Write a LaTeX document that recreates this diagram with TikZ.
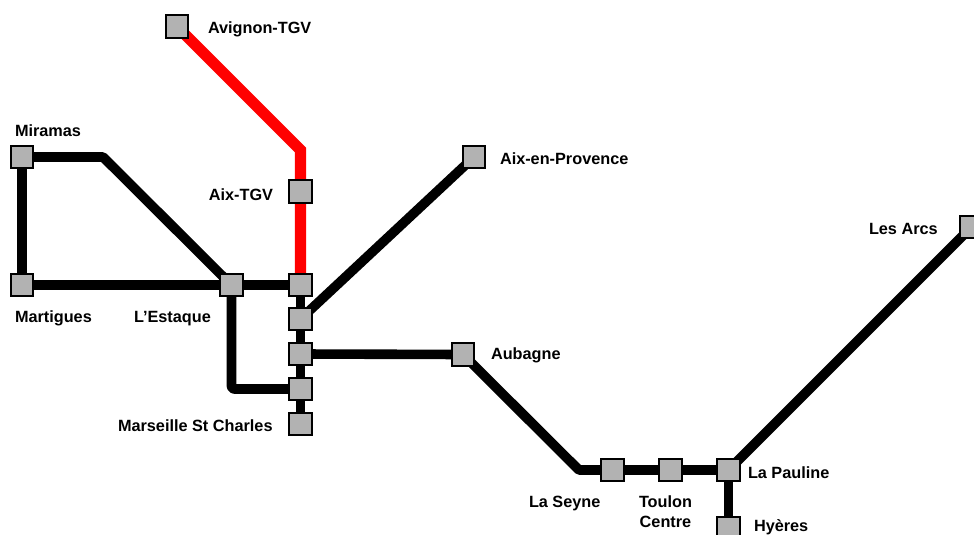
\documentclass[tikz,border=0pt]{standalone}
\usepackage{fontspec}
\setmainfont{Liberation Sans}
\usetikzlibrary{backgrounds}
\definecolor{sgray}{RGB}{178,178,178}
\tikzset{railmap/.style={x=0.75pt,y=0.75pt,font=\fontsize{12.2pt}{15pt}\selectfont\bfseries},
  station/.style={draw=black,fill=sgray,line width=1.3pt,minimum size=16.8pt,inner sep=0pt,outer sep=0pt},
  track/.style={black,line width=7.2pt,line join=round},
  tgv/.style={red,line width=8.4pt,line join=miter},
  lbl/.style={inner sep=0pt,outer sep=0pt}}

\begin{document}
\begin{tikzpicture}[railmap]
    \clip (0,0) rectangle (974,-535);
    % stations
    \foreach \name/\x/\y in {avignon/177/-26.5,miramas/22/-157,aixtgv/300.5/-191.5,aixprov/474/-157,
      lesarcs/971.5/-227,martigues/22/-285,estaque/231.5/-285,north/300.5/-285,
      junction/300.5/-319,blancarde/300.5/-354,arenc/300.5/-389,marseille/300.5/-424,
      aubagne/463/-354.5,seyne/612.5/-470,toulon/670.5/-470,pauline/728.5/-470,hyeres/728.5/-528}
      \node[station] (\name) at (\x,\y) {};
    % bends
    \coordinate (bendred) at (300.5,-150);
    \coordinate (bendmir) at (103,-157);
    \coordinate (bendest) at (231.5,-389);
    \coordinate (bendaub) at (579,-470);
    \begin{scope}[on background layer]
      \draw[tgv] (avignon.center) -- (bendred) -- (aixtgv.center) -- (north.center); % red line
      \draw[track] (martigues.center) -- (miramas.center) -- (bendmir) -- (estaque.center); % west loop
      \draw[track] (martigues.center) -- (estaque.center) -- (north.center);
      \draw[track,rounded corners=2pt] (estaque.center) -- (bendest) -- (arenc.center);
      \draw[track] (north.center) -- (marseille.center); % short vertical
      \draw[track] (aixprov.center) -- (junction.center);
      \draw[track] (blancarde.center) -- (aubagne.center) -- (bendaub) -- (seyne.center) -- (toulon.center) -- (pauline.center);
      \draw[track] (pauline.center) -- (lesarcs.center);
      \draw[track] (pauline.center) -- (hyeres.center);
    \end{scope}
    % labels
    \node[lbl,anchor=base west] (avignonl) at (208,-34) {Avignon-TGV};
    \node[lbl,anchor=base west] (miramasl) at (15,-136) {Miramas};
    \node[lbl,anchor=base east] (aixtgvl) at (273,-200) {Aix-TGV};
    \node[lbl,anchor=base west] (aixprovl) at (500,-164) {Aix-en-Provence};
    \node[lbl,anchor=base west] (lesarcsl) at (869,-234) {Les Arcs};
    \node[lbl,anchor=base west] (martiguesl) at (15,-322) {Martigues};
    \node[lbl,anchor=base west] (estaquel) at (134,-322) {L’Estaque};
    \node[lbl,anchor=base west] (marseillel) at (118,-431) {Marseille St Charles};
    \node[lbl,anchor=base west] (aubagnel) at (491,-359) {Aubagne};
    \node[lbl,anchor=base west] (seynel) at (529,-507) {La Seyne};
    \node[lbl,anchor=base,align=center] (toulonl) at (665.5,-527) {Toulon\\Centre};
    \node[lbl,anchor=base west] (paulinel) at (748,-478) {La Pauline};
    \node[lbl,anchor=base west] (hyeresl) at (754,-531.5) {Hyères};
\end{tikzpicture}
\end{document}
